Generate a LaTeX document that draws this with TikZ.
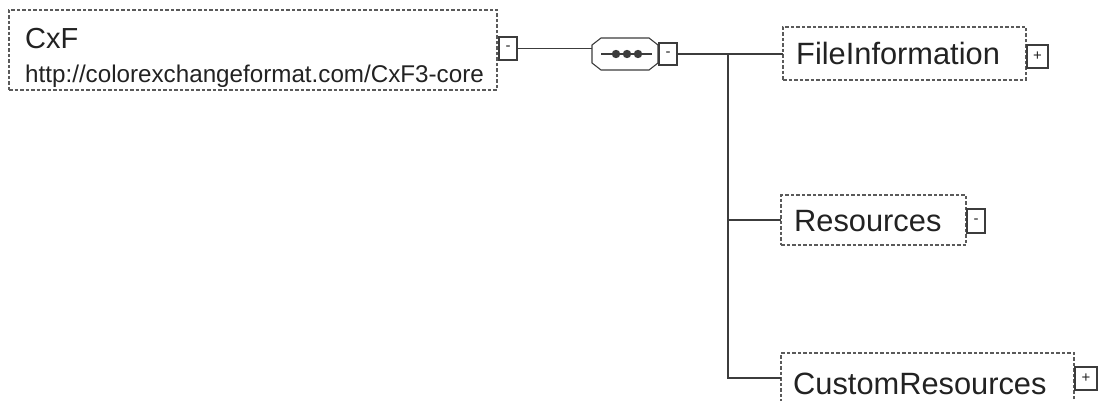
\documentclass[tikz,border=0pt]{standalone}
\usepackage{fontspec}
\setmainfont{Liberation Sans}
\definecolor{boxgray}{HTML}{5A5A5A}
\definecolor{linegray}{HTML}{3C3C3C}
\definecolor{txt}{HTML}{222222}
\tikzset{
  elembox/.style={draw=boxgray, line width=1.1pt, dash pattern=on 3.5pt off 2pt,
    rectangle, anchor=north west, inner sep=0pt, outer sep=0pt},
  togglebox/.style={draw=linegray, line width=1.1pt, rectangle, inner sep=0pt, outer sep=0pt,
    font=\fontsize{15}{15}\selectfont, text=txt},
  conn/.style={draw=linegray, line width=1.3pt},
  bigname/.style={anchor=base west, inner sep=0pt, text=txt, font=\fontsize{30.8}{30.8}\selectfont},
}
\begin{document}
\begin{tikzpicture}[x=1pt,y=-1pt]
\useasboundingbox (0,0) rectangle (1100,401);
\clip (0,0) rectangle (1100,401);
% root element
\node[elembox, minimum width=488pt, minimum height=80pt] (cxf) at (9,10) {};
\node[anchor=base west, inner sep=0pt, text=txt, font=\fontsize{29}{29}\selectfont] (cxfname) at (25,49) {CxF};
\node[anchor=base west, inner sep=0pt, text=txt, font=\fontsize{24.2}{24.2}\selectfont] (cxfns) at (25,83) {http://colorexchangeformat.com/CxF3-core};
\node[togglebox, minimum width=18pt, minimum height=23pt] (cxfminus) at (508,48.5) {-};
% sequence compositor
\node[rectangle, minimum width=66pt, minimum height=32pt, inner sep=0pt, outer sep=0pt] (seq) at (625,54) {};
\draw[draw=linegray, line width=1.1pt]
  ([xshift=9pt]seq.north west) -- ([xshift=-9pt]seq.north east)
  -- ([yshift=-7pt]seq.north east) -- ([yshift=7pt]seq.south east)
  -- ([xshift=-9pt]seq.south east) -- ([xshift=9pt]seq.south west)
  -- ([yshift=7pt]seq.south west) -- ([yshift=-7pt]seq.north west) -- cycle;
\coordinate (seqL) at (601,54);
\coordinate (seqR) at (652,54);
\draw[conn, line width=1.1pt] (seqL) -- (seqR);
\fill[linegray] (616,54) circle (4.2) (627,54) circle (4.2) (638,54) circle (4.2);
\node[togglebox, minimum width=18pt, minimum height=22pt] (seqminus) at (668,54) {-};
% children
\node[elembox, minimum width=243pt, minimum height=53pt] (fi) at (783,27) {};
\node[bigname] (finame) at (796,65) {FileInformation};
\node[togglebox, minimum width=21pt, minimum height=23pt] (fiplus) at (1037.5,56.5) {+};

\node[elembox, minimum width=185pt, minimum height=50pt] (res) at (781,195) {};
\node[bigname] (resname) at (794,231) {Resources};
\node[togglebox, minimum width=18pt, minimum height=24pt] (resminus) at (976,221) {-};

\node[elembox, minimum width=293pt, minimum height=50pt] (cr) at (781,353) {};
\node[bigname] (crname) at (793,394) {CustomResources};
\node[togglebox, minimum width=22pt, minimum height=23pt] (crplus) at (1086,378.5) {+};

% connectors
\draw[conn] (cxfminus.east) -- (cxfminus.east -| seq.west);
\coordinate (junc) at (728,54);
\draw[conn] (seqminus.east) -- (junc) -- (fi.west |- junc);
\draw[conn] (junc) |- (res.west);
\draw[conn] (junc) |- (cr.west);
\end{tikzpicture}
\end{document}
